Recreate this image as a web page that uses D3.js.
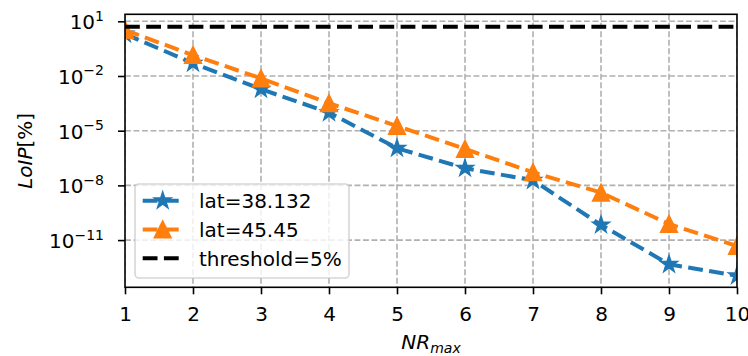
<!DOCTYPE html>
<html>
<head>
<meta charset="utf-8">
<script src="https://cdn.jsdelivr.net/npm/d3@7"></script>
<style>
  body { margin: 0; background: #fff; }
  svg { display: block; font-family: "DejaVu Sans", sans-serif; }
</style>
</head>
<body>
<div id="chart"></div>
<script>
// data
const nrMax = [1, 2, 3, 4, 5, 6, 7, 8, 9, 10];
const loipLat38 = [2.0, 5.0e-2, 1.9e-3, 9.8e-5, 1.1e-6, 8.7e-8, 1.9e-8, 6.8e-11, 4.7e-13, 1.1e-13];
const loipLat45 = [3.3, 1.4e-1, 7.4e-3, 3.2e-4, 1.8e-5, 1.0e-6, 5.2e-8, 4.0e-9, 7.6e-11, 4.7e-12];
const threshold = 5;
const yTickExps = [1, -2, -5, -8, -11];
const seriesNames = ['lat=38.132', 'lat=45.45', 'threshold=5%'];

const width = 748, height = 356;
const margin = { left: 125, top: 14.3, right: 11, bottom: 68.7 };
const w = width - margin.left - margin.right;
const h = height - margin.top - margin.bottom;

const blue = '#1f77b4', orange = '#ff7f0e';
const dash = '14.8,6.4';

const svg = d3.select('#chart')
  .append('svg')
  .attr('width', width)
  .attr('height', height);

svg.append('defs').append('clipPath')
  .attr('id', 'clip')
  .append('rect')
  .attr('width', w)
  .attr('height', h);

const g = svg.append('g')
  .attr('transform', `translate(${margin.left},${margin.top})`);

const x = d3.scaleLinear().domain([1, 10]).range([0, w]);
const y = d3.scaleLog().domain([Math.pow(10, -13.59), Math.pow(10, 1.384)]).range([h, 0]);
const yTicks = yTickExps.map(e => Math.pow(10, e));

// grid
const grid = g.append('g').attr('clip-path', 'url(#clip)');
grid.selectAll('.gx')
  .data(nrMax)
  .enter()
  .append('line')
  .attr('x1', d => x(d)).attr('x2', d => x(d))
  .attr('y1', 0).attr('y2', h)
  .style('stroke', '#b0b0b0')
  .style('stroke-width', 1.6)
  .style('stroke-dasharray', '5.9,2.6');
grid.selectAll('.gy')
  .data(yTicks)
  .enter()
  .append('line')
  .attr('x1', 0).attr('x2', w)
  .attr('y1', d => y(d)).attr('y2', d => y(d))
  .style('stroke', '#b0b0b0')
  .style('stroke-width', 1.6)
  .style('stroke-dasharray', '5.9,2.6');

// series
const plot = g.append('g').attr('clip-path', 'url(#clip)');
const line = d3.line().x(d => x(d[0])).y(d => y(d[1]));

const starPath = d3.symbol().type(d3.symbolStar).size(64 / 0.8908130915292852)();
const triPath = 'M0,-8L-8,8L8,8Z';

const series = [
  { vals: loipLat38, color: blue, marker: starPath },
  { vals: loipLat45, color: orange, marker: triPath }
];

series.forEach(s => {
  const pts = nrMax.map((n, i) => [n, s.vals[i]]);
  plot.append('path')
    .attr('d', line(pts))
    .style('fill', 'none')
    .style('stroke', s.color)
    .style('stroke-width', 4)
    .style('stroke-dasharray', dash);
  plot.selectAll(null)
    .data(pts)
    .enter()
    .append('path')
    .attr('d', s.marker)
    .attr('transform', d => `translate(${x(d[0])},${y(d[1])})`)
    .style('fill', s.color)
    .style('stroke', s.color)
    .style('stroke-width', 2)
    .style('stroke-linejoin', 'miter');
});

plot.append('line')
  .attr('x1', 0).attr('x2', w)
  .attr('y1', y(threshold)).attr('y2', y(threshold))
  .style('stroke', 'black')
  .style('stroke-width', 4)
  .style('stroke-dasharray', dash);

// axes
const xAxis = g.append('g')
  .attr('transform', `translate(0,${h})`)
  .call(d3.axisBottom(x).tickValues(nrMax).tickSize(7).tickSizeOuter(0).tickFormat(d3.format('d')));
xAxis.selectAll('text')
  .attr('y', 34)
  .attr('dy', 0)
  .style('font-size', '20px')
  .style('font-family', '"DejaVu Sans", sans-serif')
  .style('fill', 'black');

const yAxis = g.append('g')
  .call(d3.axisLeft(y).tickValues(yTicks).tickSize(7).tickSizeOuter(0).tickFormat(''));
yAxis.selectAll('.tick').each(function(d, i) {
  const t = d3.select(this).select('text');
  t.attr('x', -21).attr('dy', 0).attr('y', 7.3)
    .style('font-size', '20px')
    .style('font-family', '"DejaVu Sans", sans-serif')
    .style('fill', 'black')
    .attr('text-anchor', 'end');
  t.append('tspan').text('10');
  t.append('tspan')
    .attr('dy', -8.3)
    .style('font-size', '14px')
    .text(String(yTickExps[i]).replace('-', '\u2212'));
});

[xAxis, yAxis].forEach(a => {
  a.select('.domain').remove();
  a.selectAll('.tick line').style('stroke', 'black').style('stroke-width', 1.6);
});

// spines
g.append('rect')
  .attr('width', w)
  .attr('height', h)
  .style('fill', 'none')
  .style('stroke', 'black')
  .style('stroke-width', 1.6);

// axis labels
const xl = svg.append('text')
  .attr('x', margin.left + w / 2)
  .attr('y', 348.5)
  .attr('text-anchor', 'middle')
  .style('font-size', '20px')
  .style('font-style', 'italic');
xl.append('tspan').text('NR');
xl.append('tspan').attr('dy', 4.5).style('font-size', '14px').text('max');

const yl = svg.append('text')
  .attr('transform', `translate(32,${margin.top + h / 2}) rotate(-90)`)
  .attr('text-anchor', 'middle')
  .style('font-size', '20px');
yl.append('tspan').style('font-style', 'italic').text('LoIP');
yl.append('tspan').text('[%]');

// legend
const leg = svg.append('g');
leg.append('rect')
  .attr('x', 135).attr('y', 184)
  .attr('width', 214).attr('height', 94)
  .attr('rx', 4)
  .style('fill', 'white')
  .style('fill-opacity', 0.8)
  .style('stroke', '#cccccc')
  .style('stroke-opacity', 0.8)
  .style('stroke-width', 1.6);

const legRows = [
  { color: blue, marker: starPath },
  { color: orange, marker: triPath },
  { color: 'black', marker: null }
];
legRows.forEach((r, i) => {
  const cy = 200.7 + i * 28.8;
  leg.append('line')
    .attr('x1', 142.7).attr('x2', 182.7)
    .attr('y1', cy).attr('y2', cy)
    .style('stroke', r.color)
    .style('stroke-width', 4)
    .style('stroke-dasharray', dash);
  if (r.marker) {
    leg.append('path')
      .attr('d', r.marker)
      .attr('transform', `translate(162.7,${cy})`)
      .style('fill', r.color)
      .style('stroke', r.color)
      .style('stroke-width', 2);
  }
  leg.append('text')
    .attr('x', 199)
    .attr('y', cy + 7.3)
    .style('font-size', '20px')
    .text(seriesNames[i]);
});
</script>
</body>
</html>
